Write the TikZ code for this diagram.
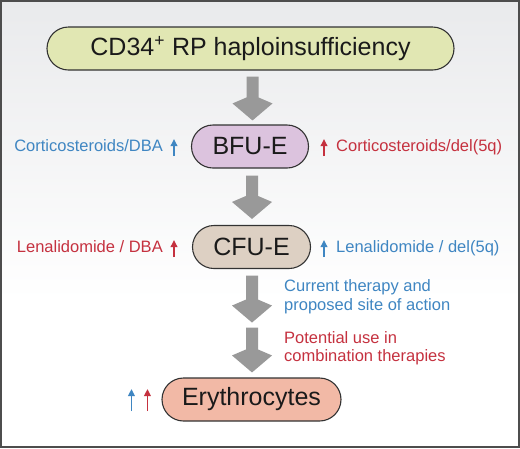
\documentclass[tikz,border=0pt]{standalone}
\usepackage{fontspec}
\setmainfont{Liberation Sans}
\usetikzlibrary{calc,arrows.meta}
\definecolor{topfill}{HTML}{E1E7B3}
\definecolor{bfufill}{HTML}{DCC3DE}
\definecolor{cfufill}{HTML}{DDD0C3}
\definecolor{eryfill}{HTML}{F2B9A6}
\definecolor{arrowgray}{HTML}{999999}
\definecolor{tblue}{HTML}{3F86C2}
\definecolor{tred}{HTML}{C5313F}
\definecolor{nodeline}{HTML}{333333}
\definecolor{nodetext}{HTML}{1A1A1A}
\definecolor{bgtop}{HTML}{E9EAEC}
\definecolor{framec}{HTML}{4D4D4D}
\newcommand\blockarrow[2]{\fill[arrowgray] ($(#1)+(-6,0)$) -- ($(#1)+(6,0)$) -- ($(#2)+(6,-23)$) -- ($(#2)+(20,-17)$) -- (#2) -- ($(#2)+(-20,-17)$) -- ($(#2)+(-6,-23)$) -- cycle;}
\tikzset{
  pill/.style={draw=nodeline, line width=1.1pt, rounded corners=21.5pt, minimum height=43pt, inner sep=0pt, font=\fontsize{25}{30}\selectfont, text=nodetext},
  lbl/.style={font=\fontsize{16.5}{18.5}\selectfont, inner sep=0pt, align=left},
  uparrow/.style={line width=1.8pt, -{Triangle[width=6.5pt,length=7pt]}},
}
\begin{document}
\begin{tikzpicture}[x=1pt,y=-1pt]
\useasboundingbox (0,0) rectangle (520,448);
\shade[top color=bgtop, bottom color=white] (0,0) rectangle (520,300);
\fill[white] (0,300) rectangle (520,448);
\draw[framec, line width=1.6pt] (0.8,0.8) rectangle (519.2,447.2);

\node[pill, fill=topfill, minimum width=407pt] (top) at (250.5,48.5) {CD34\textsuperscript{+} RP haploinsufficiency};
\node[pill, fill=bfufill, minimum width=117pt] (bfu) at (250,146.5) {BFU-E};
\node[pill, fill=cfufill, minimum width=118pt] (cfu) at (251.5,247) {CFU-E};
\node[pill, fill=eryfill, minimum width=179pt] (ery) at (251.5,399.5) {Erythrocytes};

% block arrows
\coordinate (a1s) at ($(top.south)+(2,6)$);
\coordinate (a1e) at ($(a1s |- bfu.north)+(0,-4)$);
\coordinate (a2s) at ($(bfu.south)+(2,7)$);
\coordinate (a2e) at ($(a2s |- cfu.north)+(0,-6)$);
\coordinate (a3s) at ($(cfu.south)+(0.5,6.5)$);
\coordinate (a3e) at ($(a3s)+(0,47)$);
\coordinate (a4s) at ($(a3e)+(0,5)$);
\coordinate (a4e) at ($(a4s |- ery.north)+(0,-5)$);
\blockarrow{a1s}{a1e}
\blockarrow{a2s}{a2e}
\blockarrow{a3s}{a3e}
\blockarrow{a4s}{a4e}

% side labels
\node[lbl, text=tblue, anchor=base east] (l1) at (163,151) {Corticosteroids/DBA};
\draw[uparrow, tblue] ($(l1.base east)+(11,5)$) -- ($(l1.base east)+(11,-12)$);
\node[lbl, text=tred, anchor=base west] (r1) at (336,151) {Corticosteroids/del(5q)};
\draw[uparrow, tred] ($(r1.base west)+(-12,5)$) -- ($(r1.base west)+(-12,-12)$);

\node[lbl, text=tred, anchor=base east] (l2) at (163,252) {Lenalidomide / DBA};
\draw[uparrow, tred] ($(l2.base east)+(11,5)$) -- ($(l2.base east)+(11,-12)$);
\node[lbl, text=tblue, anchor=base west] (r2) at (336,252) {Lenalidomide / del(5q)};
\draw[uparrow, tblue] ($(r2.base west)+(-12,5)$) -- ($(r2.base west)+(-12,-12)$);

\node[lbl, text=tblue, anchor=north west] (cur) at (284,279.5) {Current therapy and\\proposed site of action};
\node[lbl, text=tred, anchor=north west] (pot) at (284,331) {Potential use in\\combination therapies};

\draw[uparrow, tblue] ($(ery.west)+(-30,11.5)$) -- ($(ery.west)+(-30,-10.5)$);
\draw[uparrow, tred] ($(ery.west)+(-14,11.5)$) -- ($(ery.west)+(-14,-10.5)$);
\end{tikzpicture}
\end{document}
